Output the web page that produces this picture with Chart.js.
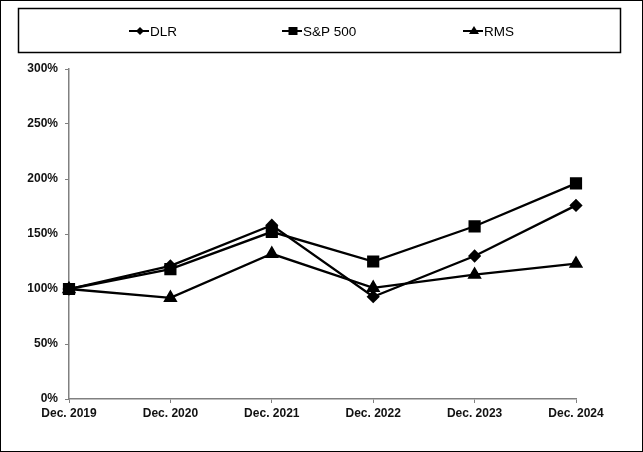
<!DOCTYPE html>
<html lang="en">
<head>
    <meta charset="UTF-8">
    <script src="https://cdn.jsdelivr.net/npm/chart.js"></script>
    <style>
        html, body { margin: 0; padding: 0; background: #fff; }
        #wrap { width: 643px; height: 452px; }
    </style>
</head>
<body>
    <div id="wrap"><canvas id="perf"></canvas></div>
    <script>
        const years = ['Dec. 2019', 'Dec. 2020', 'Dec. 2021', 'Dec. 2022', 'Dec. 2023', 'Dec. 2024'];
        const dlr = [100, 121, 158, 93, 130, 176];
        const sp500 = [100, 118, 152, 125, 157, 196];
        const rms = [100, 92, 132, 101, 113, 123];
        const series_names = ['DLR', 'S&P 500', 'RMS'];
        const marker_styles = ['rectRot', 'rect', 'triangle'];
        const marker_sizes = [5, 7, 6];

        // frame around the canvas and boxed legend on top
        const framePlugin = {
            id: 'frame',
            afterDraw(chart) {
                const ctx = chart.ctx;
                ctx.save();
                ctx.strokeStyle = '#000';
                ctx.lineWidth = 1;
                ctx.strokeRect(0.5, 0.5, chart.width - 1, chart.height - 1);
                ctx.lineWidth = 1.5;
                ctx.strokeRect(18.5, 8.5, 602, 44);

                const starts = [129, 282, 463];
                const cy = 31;
                ctx.font = '13.5px "Liberation Sans", Arial, sans-serif';
                ctx.textBaseline = 'middle';
                ctx.fillStyle = '#000';
                chart.data.datasets.forEach((ds, i) => {
                    const x0 = starts[i];
                    const mx = x0 + 11;
                    ctx.lineWidth = 2;
                    ctx.beginPath();
                    ctx.moveTo(x0, cy);
                    ctx.lineTo(x0 + 20, cy);
                    ctx.stroke();
                    ctx.beginPath();
                    if (ds.pointStyle === 'rectRot') {
                        ctx.moveTo(mx - 4, cy); ctx.lineTo(mx, cy - 4);
                        ctx.lineTo(mx + 4, cy); ctx.lineTo(mx, cy + 4);
                    } else if (ds.pointStyle === 'rect') {
                        ctx.rect(mx - 4.5, cy - 4, 9, 8);
                    } else {
                        ctx.moveTo(mx, cy - 5); ctx.lineTo(mx + 5, cy + 3);
                        ctx.lineTo(mx - 5, cy + 3);
                    }
                    ctx.closePath();
                    ctx.fill();
                    ctx.fillText(ds.label, x0 + 21, cy + 1);
                });
                ctx.restore();
            }
        };

        const all_values = [dlr, sp500, rms];
        const datasets = all_values.map((vals, i) => ({
            label: series_names[i],
            data: vals,
            borderColor: '#000',
            backgroundColor: '#000',
            borderWidth: 2.3,
            pointStyle: marker_styles[i],
            pointRadius: marker_sizes[i],
            pointHoverRadius: marker_sizes[i],
            tension: 0,
            fill: false
        }));

        const tickFont = { family: '"Liberation Sans", Arial, sans-serif', size: 12, weight: 'bold' };

        new Chart(document.getElementById('perf'), {
            type: 'line',
            data: { labels: years, datasets: datasets },
            options: {
                responsive: true,
                maintainAspectRatio: false,
                animation: false,
                layout: { padding: { top: 69, right: 67, left: 0, bottom: 0 } },
                plugins: {
                    legend: { display: false },
                    tooltip: { enabled: false }
                },
                scales: {
                    x: {
                        offset: false,
                        afterFit(scale) { scale.height = 53; },
                        grid: {
                            drawOnChartArea: false,
                            drawTicks: true,
                            tickLength: 4,
                            color: '#808080'
                        },
                        border: { color: '#808080', width: 1.5 },
                        ticks: { color: '#111', font: tickFont, padding: 3, maxRotation: 0, autoSkip: false }
                    },
                    y: {
                        min: 0,
                        max: 300,
                        afterFit(scale) { scale.width = 69; },
                        grid: {
                            drawOnChartArea: false,
                            drawTicks: true,
                            tickLength: 4,
                            color: '#808080'
                        },
                        border: { color: '#808080', width: 1.5 },
                        ticks: {
                            stepSize: 50,
                            color: '#111',
                            font: tickFont,
                            padding: 7,
                            callback: v => v + '%'
                        }
                    }
                }
            },
            plugins: [framePlugin]
        });
    </script>
</body>
</html>
